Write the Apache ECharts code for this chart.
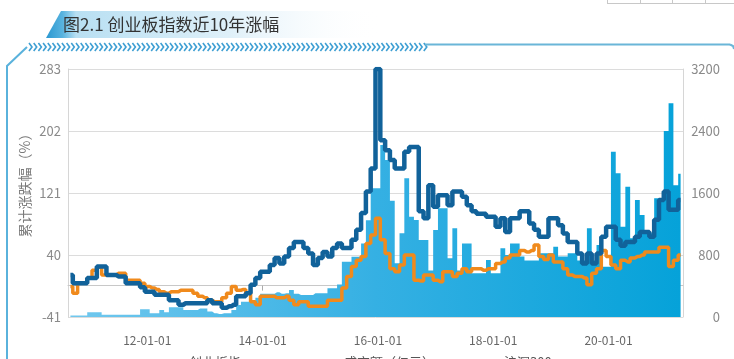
<!DOCTYPE html>
<html><head><meta charset="utf-8">
<script src="https://cdn.jsdelivr.net/npm/echarts@6/dist/echarts.min.js"></script>
<style>html,body{margin:0;padding:0;background:#fff}#c{width:734px;height:359px}</style>
</head><body><div id="c"></div>
<script>
// ---- data ----
const startYear = 2010, startMonth = 9, monthCount = 128;
const categories = [];
for (let k = 0; k < monthCount; k++) {
  const m = startMonth - 1 + k;
  const y = startYear + Math.floor(m / 12);
  const mm = m % 12 + 1;
  categories.push(String(y % 100).padStart(2, '0') + '-' + String(mm).padStart(2, '0') + '-01');
}
const tickLabels = ['12-01-01', '14-01-01', '16-01-01', '18-01-01', '20-01-01'];
const leftTicks = [-41, 40, 121, 202, 283];
const rightTicks = [0, 800, 1600, 2400, 3200];

// 创业板指 cumulative change (%)
const cybChange = [
  14, 3, 3, 3, 10, 10, 25, 25, 14, 14,
  12, 12, 3, 3, 3, -2, -8, -8, -12, -12,
  -12, -19, -19, -25, -23, -23, -23, -23, -23, -19,
  -23, -23, -29, -27, -25, -14, -14, -10, 1, 10,
  18, 18, 27, 36, 29, 38, 49, 57, 57, 49,
  42, 27, 36, 44, 38, 49, 55, 49, 49, 60,
  73, 95, 123, 153, 283, 190, 177, 164, 153, 153,
  175, 181, 181, 97, 88, 131, 103, 118, 118, 105,
  123, 123, 116, 105, 97, 94, 94, 90, 90, 77,
  88, 70, 88, 88, 97, 97, 81, 73, 64, 64,
  88, 88, 79, 68, 57, 57, 42, 29, 42, 29,
  42, 64, 77, 77, 60, 52, 57, 57, 64, 70,
  70, 64, 86, 112, 123, 99, 99, 112
];
// 沪深300 cumulative change (%)
const hs300Change = [
  -1, -10, 3, 3, 10, 20, 24, 14, 14, 14,
  16, 16, 7, 7, 7, 3, -1, -3, -5, -8,
  -10, -8, -8, -6, -6, -6, -10, -14, -16, -19,
  -21, -21, -16, -10, -1, -6, -5, -10, -21, -25,
  -14, -14, -14, -16, -16, -14, -19, -25, -21, -21,
  -27, -27, -27, -27, -19, -19, -19, -3, 12, 25,
  33, 38, 55, 66, 88, 60, 42, 22, 18, 27,
  40, 40, 7, 6, 14, 14, 7, 5, 18, 18,
  12, 16, 22, 18, 22, 22, 20, 22, 22, 29,
  31, 36, 40, 40, 46, 44, 46, 53, 38, 34,
  40, 31, 31, 22, 14, 12, 12, 10, 1, 16,
  22, 46, 38, 27, 22, 33, 31, 36, 38, 40,
  44, 44, 44, 50, 50, 25, 33, 40
];
// 成交额（亿元）
const turnover = [
  20, 20, 20, 20, 60, 60, 60, 30, 30, 30,
  30, 30, 30, 30, 30, 100, 100, 50, 50, 90,
  60, 125, 125, 125, 90, 90, 90, 110, 110, 70,
  50, 40, 48, 48, 90, 155, 197, 197, 197, 250,
  300, 300, 300, 320, 300, 306, 350, 300, 284, 284,
  284, 306, 306, 306, 370, 370, 420, 713, 713, 778,
  778, 950, 1250, 1660, 1660, 2219, 2025, 1500, 693, 1080,
  1789, 1294, 1251, 993, 993, 600, 1122, 1402, 1402, 757,
  1144, 600, 950, 950, 563, 563, 563, 735, 563, 563,
  886, 800, 950, 950, 780, 730, 730, 730, 822, 822,
  822, 907, 780, 780, 822, 822, 730, 730, 1144, 730,
  929, 649, 649, 2133, 1854, 1165, 1681, 1015, 1509, 1316,
  1080, 1080, 1531, 1531, 2400, 2757, 1700, 1850
];

// ---- chart ----
const FONT = '"Noto Sans CJK SC", "Noto Sans", sans-serif';
const chart = echarts.init(document.getElementById('c'), null, { renderer: 'canvas' });

const gridL = 68, gridR = 683, gridT = 69, gridB = 317;

const chevrons = [];
for (let x = 29; x < 425; x += 4.7) {
  chevrons.push({
    type: 'polyline', silent: true,
    shape: { points: [[x, 43], [x + 3, 47], [x, 51]] },
    style: { stroke: '#3e9fd3', lineWidth: 1.6, fill: null }
  });
}

const areaGrad = () => new echarts.graphic.LinearGradient(gridL, 0, gridR, 0, [
  { offset: 0, color: '#72c8ee' },
  { offset: 0.5, color: '#35b0e3' },
  { offset: 1, color: '#05a2d9' }
], true);

const legendBase = { top: 351, icon: 'rect', itemWidth: 32, itemHeight: 6, selectedMode: false,
  textStyle: { fontSize: 13, color: '#555', fontFamily: FONT } };

const option = {
  animation: false,
  backgroundColor: '#ffffff',
  textStyle: { fontFamily: FONT },
  grid: { left: gridL, right: 734 - gridR, top: gridT, bottom: 359 - gridB, containLabel: false },
  legend: [
    Object.assign({ left: 147, data: [{ name: '创业板指', itemStyle: { color: '#4eb7e6' } }] }, legendBase),
    Object.assign({ left: 302, data: [{ name: '成交额（亿元）', itemStyle: { color: '#a6ddf3' } }] }, legendBase),
    Object.assign({ left: 462, data: [{ name: '沪深300', itemStyle: { color: '#f39a2b' } }] }, legendBase)
  ],
  xAxis: {
    type: 'category',
    data: categories,
    boundaryGap: true,
    axisLine: { show: true, lineStyle: { color: '#c8c8c8', width: 1 } },
    axisTick: { show: true, alignWithLabel: true, length: 5,
      interval: (i, v) => tickLabels.includes(v),
      lineStyle: { color: '#aaaaaa' } },
    axisLabel: { interval: (i, v) => tickLabels.includes(v), margin: 17,
      color: '#666', fontSize: 12, fontFamily: FONT },
    splitLine: { show: false }
  },
  yAxis: [
    {
      type: 'value', min: leftTicks[0], max: leftTicks[leftTicks.length - 1], interval: 81,
      axisLine: { show: true, lineStyle: { color: '#d6d6d6' } },
      axisTick: { show: false },
      axisLabel: { color: '#8a8a8a', fontSize: 13, margin: 7, fontFamily: FONT },
      splitLine: { show: true, lineStyle: { color: '#dcdcdc', width: 1 } }
    },
    {
      type: 'value', min: rightTicks[0], max: rightTicks[rightTicks.length - 1], interval: 800,
      position: 'right',
      axisLine: { show: true, lineStyle: { color: '#d6d6d6' } },
      axisTick: { show: false },
      axisLabel: { color: '#8a8a8a', fontSize: 13, margin: 37, align: 'right', fontFamily: FONT,
        formatter: v => String(v) },
      splitLine: { show: false }
    }
  ],
  series: [
    {
      name: '成交额（亿元）', type: 'line', yAxisIndex: 1, data: turnover,
      step: 'middle', showSymbol: false, symbol: 'none',
      lineStyle: { width: 0, color: '#35b0e3' },
      itemStyle: { color: '#35b0e3' },
      areaStyle: { color: areaGrad(), opacity: 1, origin: 'start' },
      z: 1
    },
    {
      name: '沪深300', type: 'line', yAxisIndex: 0, data: hs300Change,
      step: 'middle', showSymbol: false, symbol: 'none',
      lineStyle: { color: '#f08a1c', width: 3.5 },
      itemStyle: { color: '#f08a1c' },
      z: 3
    },
    {
      name: '创业板指', type: 'line', yAxisIndex: 0, data: cybChange,
      step: 'middle', showSymbol: false, symbol: 'none',
      lineStyle: { color: '#11629a', width: 4.5 },
      itemStyle: { color: '#11629a' },
      z: 4
    }
  ],
  graphic: [
    { type: 'polygon', silent: true, z: 0,
      shape: { points: [[46, 38], [61, 11], [380, 11], [380, 38]] },
      style: { fill: new echarts.graphic.LinearGradient(46, 0, 380, 0, [
        { offset: 0, color: '#2b98d1' },
        { offset: 0.05, color: '#58b3df' },
        { offset: 0.09, color: '#b8dff2' },
        { offset: 0.55, color: '#dff0f9' },
        { offset: 1, color: 'rgba(255,255,255,0)' }
      ], true) } },
    { type: 'text', silent: true, z: 10, x: 63, y: 25,
      style: { text: '图2.1 创业板指数近10年涨幅', font: '17px ' + FONT, fill: '#333',
        textVerticalAlign: 'middle', textAlign: 'left' } },
    ...chevrons,
    { type: 'line', silent: true, shape: { x1: 425, y1: 44.5, x2: 730, y2: 44.5 },
      style: { stroke: '#6ab6d8', lineWidth: 2 } },
    { type: 'polyline', silent: true, shape: { points: [[730, 44.5], [733, 46], [734, 49]] },
      style: { stroke: '#6ab6d8', lineWidth: 2, fill: null } },
    { type: 'polyline', silent: true, shape: { points: [[27, 47], [7, 66], [7, 359]] },
      style: { stroke: '#5ab2dc', lineWidth: 2, fill: null } },
    { type: 'line', silent: true, shape: { x1: 607, y1: 3.5, x2: 734, y2: 3.5 },
      style: { stroke: '#c8c8c8', lineWidth: 1 } },
    { type: 'line', silent: true, shape: { x1: 607.5, y1: 0, x2: 607.5, y2: 4 }, style: { stroke: '#c8c8c8', lineWidth: 1 } },
    { type: 'line', silent: true, shape: { x1: 640.5, y1: 0, x2: 640.5, y2: 4 }, style: { stroke: '#c8c8c8', lineWidth: 1 } },
    { type: 'line', silent: true, shape: { x1: 672.5, y1: 0, x2: 672.5, y2: 4 }, style: { stroke: '#c8c8c8', lineWidth: 1 } },
    { type: 'line', silent: true, shape: { x1: 705.5, y1: 0, x2: 705.5, y2: 4 }, style: { stroke: '#c8c8c8', lineWidth: 1 } },
    { type: 'text', silent: true, x: 25, y: 182, rotation: Math.PI / 2,
      style: { text: '累计涨跌幅（%）', font: '14px ' + FONT, fill: '#7a7a7a',
        textAlign: 'center', textVerticalAlign: 'middle' } }
  ]
};
chart.setOption(option);
</script>
</body></html>
